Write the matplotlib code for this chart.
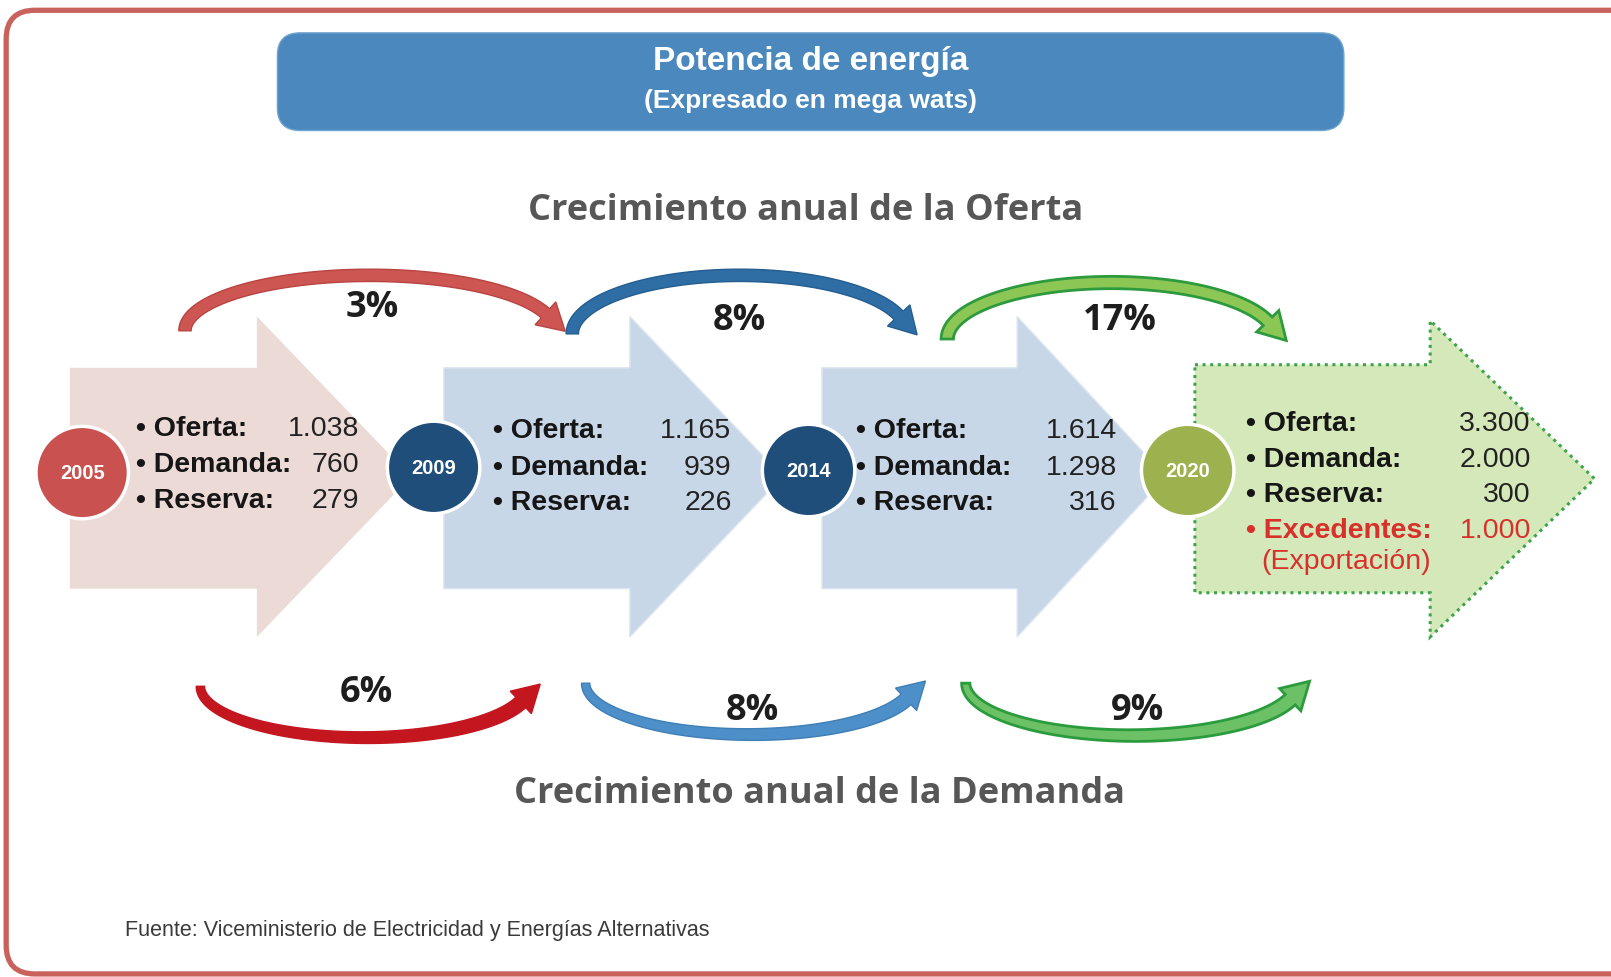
import numpy as np
import matplotlib.pyplot as plt
from matplotlib.patches import Polygon, Circle, FancyBboxPatch

# datos (mega watts)
years = [2005, 2009, 2014, 2020]
oferta = [1038, 1165, 1614, 3300]
demanda = [760, 939, 1298, 2000]
reserva = [279, 226, 316, 300]
excedentes_2020 = 1000
crec_oferta = [3, 8, 17]
crec_demanda = [6, 8, 9]


def miles(v):
    return f'{v:,}'.replace(',', '.')


W, H = 1568, 951
fig = plt.figure(figsize=(16.11, 9.77), dpi=100)
ax = fig.add_axes([0, 0, 1, 1])
ax.set_xlim(0, W)
ax.set_ylim(H, 0)
ax.axis('off')

arial = ['Liberation Sans', 'DejaVu Sans']
opens = ['Open Sans', 'DejaVu Sans']

# marco rojo exterior
ax.add_patch(FancyBboxPatch((6, 10), 1600, 938, boxstyle='round,pad=0,rounding_size=28',
                            fc='white', ec='#c9625c', lw=3.8, zorder=0))

# cabecera
ax.add_patch(FancyBboxPatch((270, 32), 1038, 95, boxstyle='round,pad=0,rounding_size=22',
                            fc='#4b88bd', ec='#6fa3d0', lw=1, zorder=1))
ax.text(789, 60, 'Potencia de energía', ha='center', va='center', color='white',
        fontsize=24, fontweight='bold', family=arial)
ax.text(789, 98, '(Expresado en mega wats)', ha='center', va='center', color='white',
        fontsize=19, fontweight='bold', family=arial)

ax.text(784, 205, 'Crecimiento anual de la Oferta', ha='center', va='center',
        color='#575757', fontsize=26, fontweight='bold', family=opens)
ax.text(798, 773, 'Crecimiento anual de la Demanda', ha='center', va='center',
        color='#575757', fontsize=26, fontweight='bold', family=opens)


# flechas grandes
def big_arrow(xl, xb, xt, fc, top=358, bot=573, htop=308, hbot=620, **kw):
    ym = (htop + hbot) / 2
    pts = [(xl, top), (xb, top), (xb, htop), (xt, ym), (xb, hbot), (xb, bot), (xl, bot)]
    ax.add_patch(Polygon(pts, closed=True, fc=fc, zorder=2, **kw))


big_arrow(68, 250, 400, '#ecdad6', ec='none')
big_arrow(432, 613, 762, '#c8d7e7', ec='#dde7f1', lw=1)
big_arrow(800, 990, 1135, '#c8d7e7', ec='#dde7f1', lw=1)
big_arrow(1163, 1392, 1552, '#d5e8ba', top=355, bot=577, htop=312, hbot=620,
          ec='#3fa34b', lw=2.2, ls=(0, (1, 1.5)))


# flechas curvas
def curved_arrow(x0, xc, yb, h, fc, up, w0, w1, t_end=0.32, head_len=26, head_w=30, ec=None, lw=1):
    a = xc - x0
    t = np.linspace(np.pi, t_end, 90)
    sgn = -1 if up else 1
    px = xc + a * np.cos(t)
    py = yb + sgn * h * np.sin(t)
    tx = a * np.sin(t)
    ty = -sgn * h * np.cos(t)
    n = np.hypot(tx, ty)
    tx, ty = tx / n, ty / n
    nx, ny = -ty, tx
    w = np.linspace(w0, w1, len(t))
    left = np.c_[px + nx * w / 2, py + ny * w / 2]
    right = np.c_[px - nx * w / 2, py - ny * w / 2]
    ex, ey, ux, uy = px[-1], py[-1], tx[-1], ty[-1]
    vx, vy = -uy, ux
    head = [(ex + vx * head_w / 2, ey + vy * head_w / 2),
            (ex + ux * head_len, ey + uy * head_len),
            (ex - vx * head_w / 2, ey - vy * head_w / 2)]
    verts = np.vstack([left, head, right[::-1]])
    ax.add_patch(Polygon(verts, closed=True, fc=fc, ec=ec or fc, lw=lw, zorder=4))


curved_arrow(180, 360, 322, 54, '#cd5653', True, 12, 12, ec='#b84441')
curved_arrow(557, 720, 325, 57, '#2f6ea5', True, 12, 12, ec='#245d8f')
curved_arrow(922, 1082, 330, 55, '#8cc756', True, 12, 12, ec='#2e9a3e', lw=2)

curved_arrow(195, 355, 668, 50, '#c3161f', False, 8, 14)
curved_arrow(570, 730, 665, 50, '#4d8fc8', False, 8, 14, ec='#3f7fb6')
curved_arrow(940, 1102, 665, 51, '#6cc065', False, 8, 14, ec='#2b9c3d', lw=2)

top_pos = [(362, 300), (720, 312), (1090, 312)]
bot_pos = [(357, 675), (732, 692), (1107, 692)]
for (x, y), v in zip(top_pos, crec_oferta):
    ax.text(x, y, f'{v}%', ha='center', va='center', fontsize=26, fontweight='bold',
            color='#1e1e1e', family=opens, zorder=6)
for (x, y), v in zip(bot_pos, crec_demanda):
    ax.text(x, y, f'{v}%', ha='center', va='center', fontsize=26, fontweight='bold',
            color='#1e1e1e', family=opens, zorder=6)

# circulos de los años
centers = [(80, 460), (422, 455), (787, 458), (1156, 458)]
circ_col = ['#c9514f', '#1f4e7a', '#1f4e7a', '#9db14f']
for (cx, cy), yr, c in zip(centers, years, circ_col):
    ax.add_patch(Circle((cx, cy), 45, fc=c, ec='white', lw=2.5, zorder=5))
    ax.text(cx, cy + 1, str(yr), ha='center', va='center', color='white',
            fontsize=14.5, fontweight='bold', family=arial, zorder=6)

# textos de cada bloque
block_x = [132, 480, 833, 1213]
val_x = [350, 712, 1087, 1490]
rows_y = [[418, 453, 488], [420, 456, 490], [420, 456, 490], [413, 448, 482]]
names = ['• Oferta:', '• Demanda:', '• Reserva:']
for i in range(4):
    vals = [oferta[i], demanda[i], reserva[i]]
    for name, v, y in zip(names, vals, rows_y[i]):
        ax.text(block_x[i], y, name, ha='left', va='center', fontsize=20.5,
                fontweight='bold', color='#161616', family=arial, zorder=6)
        ax.text(val_x[i], y, miles(v), ha='right', va='center', fontsize=20.5,
                color='#222222', family=arial, zorder=6)

red_txt = '#d8302b'
ax.text(block_x[3], 517, '• Excedentes:', ha='left', va='center', fontsize=20.5,
        fontweight='bold', color=red_txt, family=arial, zorder=6)
ax.text(val_x[3], 517, miles(excedentes_2020), ha='right', va='center', fontsize=20.5,
        color=red_txt, family=arial, zorder=6)
ax.text(1228, 547, '(Exportación)', ha='left', va='center', fontsize=20.5,
        color=red_txt, family=arial, zorder=6)

ax.text(122, 906, 'Fuente: Viceministerio de Electricidad y Energías Alternativas',
        ha='left', va='center', fontsize=15.5, color='#3a3a3a', family=arial)

fig.savefig('out.png', dpi=100, facecolor='white')
